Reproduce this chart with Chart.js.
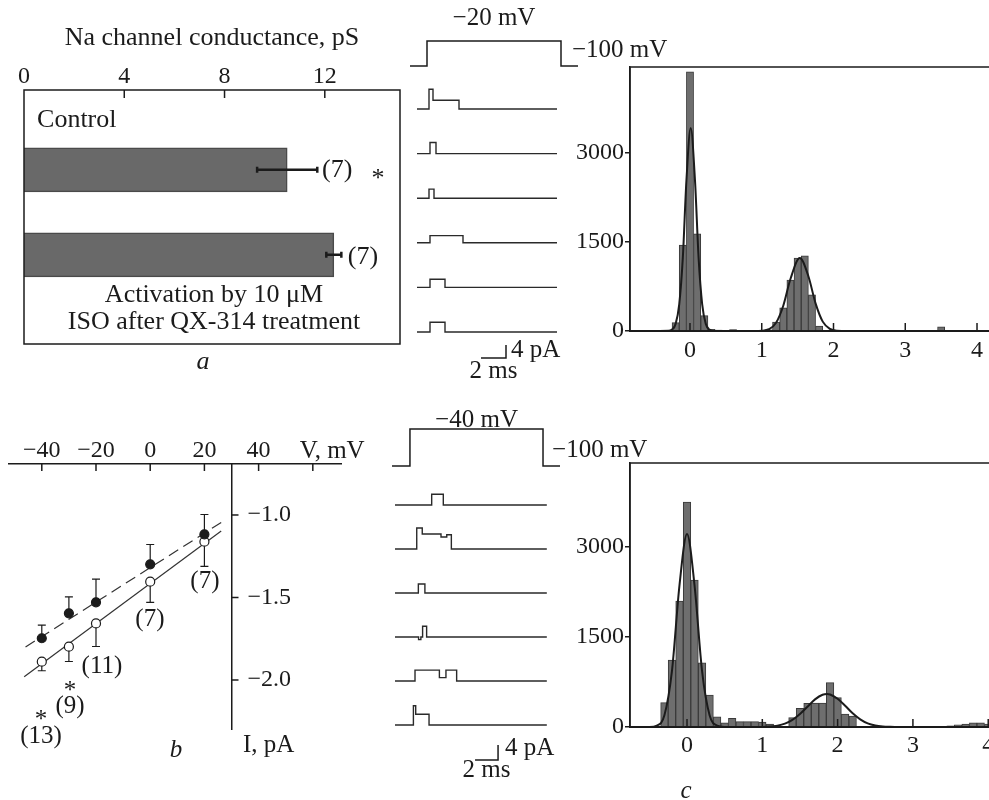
<!DOCTYPE html>
<html>
<head>
<meta charset="utf-8">
<script src="https://cdn.jsdelivr.net/npm/chart.js@4.4.1/dist/chart.umd.min.js"></script>
<style>
  html, body { margin: 0; padding: 0; background: #fff; overflow: hidden; }
  body { width: 989px; height: 800px; position: relative; }
  canvas { position: absolute; }
</style>
</head>
<body>
<canvas id="chartA" width="420" height="380" style="left:0;top:0"></canvas>
<canvas id="chartB" width="400" height="400" style="left:0;top:400px"></canvas>
<canvas id="tracesTop" width="300" height="395" style="left:400px;top:0"></canvas>
<canvas id="tracesBottom" width="300" height="395" style="left:380px;top:400px"></canvas>
<canvas id="histTop" width="460" height="330" style="left:560px;top:40px"></canvas>
<canvas id="histBottom" width="460" height="360" style="left:560px;top:440px"></canvas>
<script>
// a: single channel conductance
const conductance = [10.5, 12.36];          // Control, ISO after QX-314
const conductanceErr = [1.2, 0.3];
const ticksG = [0, 4, 8, 12];

// b: current-voltage relation
const voltages = [-40, -30, -20, 0, 20];
const currentControl = [-1.747, -1.596, -1.529, -1.299, -1.117];   // filled circles
const currentControlErr = [0.08, 0.10, 0.14, 0.12, 0.12];
const currentIso = [-1.889, -1.798, -1.657, -1.404, -1.162];       // open circles
const currentIsoErr = [0.055, 0.09, 0.14, 0.125, 0.15];
const fitControl = [[-46, -1.80], [26.2, -1.045]];
const fitIso = [[-46.5, -1.98], [26.2, -1.097]];
const ticksV = [-40, -20, 0, 20, 40, 60];
const tickLabelsV = ['\u221240', '\u221220', '0', '20', '40', ''];
const ticksI = [-1.0, -1.5, -2.0];

// single channel records: [time ms, current pA] change points
const protocolM20 = [[-0.56, -100], [0.8, -20], [11.52, -100], [12.88, -100]];
const tracesM20 = [
  [[0, 0], [0.96, 6.1], [1.28, 2.7], [3.36, 0], [11.2, 0]],
  [[0, 0], [1.04, 3.4], [1.52, 0], [11.2, 0]],
  [[0, 0], [0.96, 2.8], [1.36, 0], [11.2, 0]],
  [[0, 0], [1.04, 2.2], [3.68, 0], [11.2, 0]],
  [[0, 0], [1.04, 2.5], [2.24, 0], [11.2, 0]],
  [[0, 0], [1.04, 3.0], [2.24, 0], [11.2, 0]]
];
const protocolM40 = [[-0.26, -100], [1.3, -40], [12.87, -100], [14.35, -100]];
const tracesM40 = [
  [[0, 0], [3.19, 2.85], [4.2, 0], [13.2, 0]],
  [[0, 0], [1.89, 5.6], [2.37, 4.0], [4.0, 3.2], [4.5, 3.8], [4.9, 0], [13.2, 0]],
  [[0, 0], [2.03, 2.4], [2.6, 0], [13.2, 0]],
  [[0, 0], [2.05, -0.7], [2.25, 0], [2.4, 2.85], [2.75, 0], [13.2, 0]],
  [[0, 0], [1.74, 2.9], [3.86, 0.9], [4.43, 2.9], [5.36, 0], [13.2, 0]],
  [[0, 0], [1.6, 5.1], [1.8, 2.85], [2.96, 0], [13.2, 0]]
];

// c: amplitude histograms, pA
const ampBinsM20 = [-0.2, -0.1, 0, 0.1, 0.2, 0.3, 0.4, 0.5, 0.6, 0.7, 0.8, 1.1, 1.2, 1.3, 1.4, 1.5, 1.6, 1.7, 1.8, 3.5];
const ampCountsM20 = [140, 1450, 4370, 1640, 260, 30, 15, 10, 25, 10, 10, 20, 150, 390, 860, 1230, 1265, 610, 85, 70];
const fitAmpM20 = [-0.5, -0.3, -0.25, -0.2, -0.15, -0.1, -0.05, 0.01, 0.07, 0.12, 0.17, 0.22, 0.27, 0.35, 0.9, 1.0, 1.1, 1.2, 1.3, 1.4, 1.53, 1.65, 1.75, 1.85, 1.95, 2.05, 2.2, 4.6];
const fitCountM20 = [0, 3, 25, 120, 450, 1232, 2530, 3420, 2530, 1232, 450, 120, 25, 0, 0, 4, 30, 139, 426, 876, 1230, 922, 466, 158, 36, 5, 0, 0];
const ampBinsM40 = [-0.3, -0.2, -0.1, 0, 0.1, 0.2, 0.3, 0.4, 0.5, 0.6, 0.7, 0.8, 0.9, 1.0, 1.1, 1.2, 1.4, 1.5, 1.6, 1.7, 1.8, 1.9, 2.0, 2.1, 2.2, 3.5, 3.6, 3.7, 3.8, 3.9, 4.0, 4.1, 4.2];
const ampCountsM40 = [405, 1117, 2100, 3750, 2450, 1070, 533, 170, 70, 145, 90, 90, 90, 80, 50, 25, 155, 311, 394, 400, 400, 739, 489, 217, 183, 20, 35, 50, 70, 70, 50, 60, 60];
const fitAmpM40 = [-0.7, -0.5, -0.4, -0.3, -0.2, -0.1, 0, 0.1, 0.2, 0.3, 0.4, 0.5, 0.6, 1.0, 1.1, 1.2, 1.3, 1.4, 1.5, 1.6, 1.7, 1.8, 1.86, 1.9, 2.0, 2.1, 2.2, 2.3, 2.4, 2.5, 2.6, 2.7, 2.8, 4.5];
const fitCountM40 = [0, 1, 23, 197, 931, 2360, 3217, 2360, 931, 197, 23, 1, 0, 0, 8, 23, 56, 119, 217, 339, 460, 538, 550, 542, 470, 354, 228, 128, 61, 25, 9, 3, 0, 0];
const ticksAmp = [0, 1, 2, 3, 4];
const ticksCount = [0, 1500, 3000];

const ink = '#1b1b1b';
const serif = '"Liberation Serif", "Times New Roman", serif';
const tickFont = { family: serif, size: 24 };
const fmt = v => (v < 0 ? '\u2212' + Math.abs(v) : String(v));
const xy = (xs, ys) => xs.map((x, i) => ({ x: x, y: ys[i] }));

Chart.defaults.font.family = serif;
Chart.defaults.color = ink;

function drawErrors(chart, opts) {
  const { ctx, scales } = chart;
  (opts.errors || []).forEach(e => {
    const meta = chart.getDatasetMeta(e.dataset);
    const raw = chart.data.datasets[e.dataset].data;
    ctx.save();
    ctx.strokeStyle = ink;
    ctx.lineWidth = e.width;
    meta.data.forEach((el, i) => {
      ctx.beginPath();
      if (e.horizontal) {
        const x1 = scales.x.getPixelForValue(raw[i].x - e.err[i]);
        const x2 = scales.x.getPixelForValue(raw[i].x + e.err[i]);
        ctx.moveTo(x1, el.y); ctx.lineTo(x2, el.y);
        ctx.moveTo(x1, el.y - e.cap); ctx.lineTo(x1, el.y + e.cap);
        ctx.moveTo(x2, el.y - e.cap); ctx.lineTo(x2, el.y + e.cap);
      } else {
        const y2 = scales.y.getPixelForValue(raw[i].y + e.sign * e.err[i]);
        ctx.moveTo(el.x, el.y); ctx.lineTo(el.x, y2);
        ctx.moveTo(el.x - e.cap, y2); ctx.lineTo(el.x + e.cap, y2);
      }
      ctx.stroke();
    });
    ctx.restore();
  });
}

// frame, inward ticks, error bars and text notes
const decor = {
  id: 'decor',
  beforeDatasetsDraw(chart, args, opts) {
    if (opts.errorsBehind) drawErrors(chart, opts);
  },
  afterDatasetsDraw(chart, args, opts) {
    const { ctx, chartArea: area, scales } = chart;
    if (!opts.errorsBehind) drawErrors(chart, opts);
    ctx.save();
    ctx.strokeStyle = ink;
    ctx.fillStyle = ink;
    if (opts.frame) {
      ctx.lineWidth = opts.frame;
      ctx.strokeRect(area.left, area.top, area.right - area.left, area.bottom - area.top);
    }
    (opts.ticks || []).forEach(t => {
      const s = scales[t.scale];
      ctx.lineWidth = t.width || 1.5;
      t.values.forEach((v, i) => {
        const p = s.getPixelForValue(v);
        ctx.beginPath();
        if (s.isHorizontal()) {
          const y0 = t.from === 'top' ? area.top : area.bottom;
          ctx.moveTo(p, y0); ctx.lineTo(p, y0 + t.len);
        } else {
          const x0 = typeof t.from === 'object' ? scales.x.getPixelForValue(t.from.x) : area.left;
          ctx.moveTo(x0, p); ctx.lineTo(x0 + t.len, p);
          if (t.labels) {
            ctx.font = '24px ' + serif;
            ctx.textAlign = 'left';
            ctx.textBaseline = 'middle';
            ctx.fillText(t.labels[i], x0 + t.labelGap, p);
          }
        }
        ctx.stroke();
      });
    });
    (opts.notes || []).forEach(n => {
      const x = scales.x.getPixelForValue(n.x) + (n.dx || 0);
      const y = scales[n.axis || 'y'].getPixelForValue(n.y) + (n.dy || 0);
      ctx.font = (n.italic ? 'italic ' : '') + (n.size || opts.size || 25) + 'px ' + serif;
      ctx.textAlign = n.align || 'center';
      ctx.textBaseline = 'middle';
      ctx.fillText(n.text, x, y);
    });
    ctx.restore();
  }
};

const base = {
  responsive: false,
  devicePixelRatio: 1,
  animation: false,
  events: []
};
const quiet = { legend: { display: false }, tooltip: { enabled: false } };

// a
new Chart(document.getElementById('chartA'), {
  type: 'bar',
  data: {
    datasets: [{
      data: conductance.map((v, i) => ({ x: v, y: i + 1 })),
      backgroundColor: '#696969',
      borderColor: '#4a4a4a',
      borderWidth: 1.5,
      barThickness: 44
    }]
  },
  options: {
    ...base,
    indexAxis: 'y',
    layout: { padding: { left: 24, right: 20, top: 0, bottom: 36 } },
    scales: {
      x: {
        type: 'linear', position: 'top', min: 0, max: 15,
        afterFit: s => { s.height = 90; },
        afterBuildTicks: s => { s.ticks = ticksG.map(v => ({ value: v })); },
        grid: { display: false, drawTicks: false },
        border: { display: false },
        ticks: { font: tickFont, color: ink, padding: -1, callback: v => fmt(v) },
        title: { display: true, text: 'Na channel conductance, pS', font: { family: serif, size: 26 }, color: ink, padding: { top: 23, bottom: 0 } }
      },
      y: { type: 'linear', reverse: true, offset: false, min: 0.06, max: 3.05, display: false }
    },
    plugins: {
      ...quiet,
      decor: {
        frame: 1.5,
        size: 26,
        ticks: [{ scale: 'x', from: 'top', len: 8, values: ticksG.slice(1) }],
        errors: [{ dataset: 0, err: conductanceErr, horizontal: true, width: 2.5, cap: 3 }],
        notes: [
          { text: 'Control', x: 0.52, y: 0.413, align: 'left' },
          { text: '(7)', x: 11.89, y: 1.0, align: 'left' },
          { text: '*', x: 14.12, y: 1.11 },
          { text: '(7)', x: 12.92, y: 2.026, align: 'left' },
          { text: 'Activation by 10 \u03bcM', x: 7.58, y: 2.473 },
          { text: 'ISO after QX-314 treatment', x: 7.58, y: 2.79 },
          { text: 'a', x: 7.14, y: 3.26, italic: true }
        ]
      }
    }
  },
  plugins: [decor]
});

// b
new Chart(document.getElementById('chartB'), {
  type: 'scatter',
  data: {
    datasets: [
      {
        data: xy(voltages, currentControl),
        pointRadius: 4.5, pointBorderWidth: 1.2,
        backgroundColor: ink, borderColor: ink,
        pointBackgroundColor: ink, pointBorderColor: ink
      },
      {
        data: xy(voltages, currentIso),
        pointRadius: 4.5, pointBorderWidth: 1.2,
        backgroundColor: '#fff', borderColor: ink,
        pointBackgroundColor: '#fff', pointBorderColor: ink
      },
      {
        type: 'line',
        data: fitControl.map(p => ({ x: p[0], y: p[1] })),
        borderColor: '#333', borderWidth: 1.2, borderDash: [11, 6], pointRadius: 0
      },
      {
        type: 'line',
        data: fitIso.map(p => ({ x: p[0], y: p[1] })),
        borderColor: '#333', borderWidth: 1.2, pointRadius: 0
      }
    ]
  },
  options: {
    ...base,
    layout: { padding: { left: 9, right: 59, top: 0, bottom: 71 } },
    scales: {
      x: {
        type: 'linear', position: 'top', min: -52.1, max: 70.4,
        afterFit: s => { s.height = 64; },
        afterBuildTicks: s => { s.ticks = ticksV.map(v => ({ value: v })); },
        grid: { display: true, drawOnChartArea: false, drawTicks: false },
        border: { display: true, color: ink, width: 1.5 },
        ticks: { font: tickFont, color: ink, padding: -1, callback: v => tickLabelsV[ticksV.indexOf(v)] }
      },
      y: {
        type: 'linear', position: { x: 30 }, min: -2.297, max: -0.691,
        grid: { display: true, drawOnChartArea: false, drawTicks: false },
        border: { display: true, color: ink, width: 1.5 },
        ticks: { display: false }
      }
    },
    plugins: {
      ...quiet,
      decor: {
        errorsBehind: true,
        ticks: [
          { scale: 'x', from: 'top', len: 7, values: ticksV },
          { scale: 'y', from: { x: 30 }, len: 7, values: ticksI, labels: ticksI.map(v => '\u2212' + Math.abs(v).toFixed(1)), labelGap: 16 }
        ],
        errors: [
          { dataset: 0, err: currentControlErr, sign: 1, width: 1.2, cap: 4 },
          { dataset: 1, err: currentIsoErr, sign: -1, width: 1.2, cap: 4 }
        ],
        notes: [
          { text: '(7)', x: 20.2, y: -1.40 },
          { text: '(7)', x: -0.1, y: -1.63 },
          { text: '(11)', x: -17.8, y: -1.915 },
          { text: '*', x: -29.6, y: -2.07 },
          { text: '(9)', x: -29.6, y: -2.158 },
          { text: '*', x: -40.3, y: -2.248 },
          { text: '(13)', x: -40.3, y: -2.345 },
          { text: 'V, mV', x: 55.2, y: -0.612, align: 'left' },
          { text: 'I, pA', x: 34.2, y: -2.394, align: 'left' },
          { text: 'b', x: 9.5, y: -2.424, italic: true }
        ]
      }
    }
  },
  plugins: [decor]
});

// single channel records
function traceChart(id, traces, gap, protocol, ranges, bar, notes) {
  const datasets = traces.map((tr, k) => ({
    data: tr.map(p => ({ x: p[0], y: p[1] - k * gap })),
    stepped: 'before', borderColor: '#2a2a2a', borderWidth: 1.4, pointRadius: 0, yAxisID: 'y'
  }));
  datasets.push({
    data: protocol.map(p => ({ x: p[0], y: p[1] })),
    stepped: 'before', borderColor: ink, borderWidth: 1.5, pointRadius: 0, yAxisID: 'mv'
  });
  // 2 ms / 4 pA scale bar
  datasets.push({
    data: [{ x: bar.t - 2, y: bar.i }, { x: bar.t, y: bar.i }, { x: bar.t, y: bar.i + 4 }],
    borderColor: ink, borderWidth: 1.5, pointRadius: 0, yAxisID: 'y'
  });
  return new Chart(document.getElementById(id), {
    type: 'line',
    data: { datasets: datasets },
    options: {
      ...base,
      layout: { padding: 0 },
      scales: {
        x: { type: 'linear', display: false, min: ranges.t[0], max: ranges.t[1] },
        y: { type: 'linear', display: false, min: ranges.i[0], max: ranges.i[1] },
        mv: { type: 'linear', display: false, min: ranges.mv[0], max: ranges.mv[1] }
      },
      plugins: { ...quiet, decor: { notes: notes } }
    },
    plugins: [decor]
  });
}

traceChart('tracesTop', tracesM20, 13.72, protocolM20,
  { t: [-1.36, 22.64], i: [-88.0, 33.54], mv: [-1152.8, 111.2] },
  { t: 7.12, i: -76.6 },
  [
    { text: '\u221220 mV', x: 6.16, y: -20, axis: 'mv', dy: -23 },
    { text: '\u2212100 mV', x: 12.88, y: -100, axis: 'mv', dx: -6, dy: -16, align: 'left' },
    { text: '4 pA', x: 7.12, y: -74.2, dx: 5, align: 'left' },
    { text: '2 ms', x: 6.12, y: -76.6, dy: 13 }
  ]);

traceChart('tracesBottom', tracesM40, 11.73, protocolM40,
  { t: [-1.304, 24.78], i: [-77.33, 28], mv: [-633.5, 7.03] },
  { t: 8.96, i: -68 },
  [
    { text: '\u221240 mV', x: 7.09, y: -40, axis: 'mv', dy: -9 },
    { text: '\u2212100 mV', x: 14.35, y: -100, axis: 'mv', dx: -8, dy: -16, align: 'left' },
    { text: '4 pA', x: 8.96, y: -64.8, dx: 7, align: 'left' },
    { text: '2 ms', x: 7.96, y: -68, dy: 10 }
  ]);

// c
function histChart(id, bins, counts, fitX, fitY, xRange, yMax, fit, notes) {
  return new Chart(document.getElementById(id), {
    type: 'bar',
    data: {
      datasets: [
        {
          type: 'line', data: xy(fitX, fitY), borderColor: ink, borderWidth: 2,
          pointRadius: 0, cubicInterpolationMode: 'monotone', order: 0
        },
        {
          type: 'bar', data: xy(bins, counts), backgroundColor: '#6e6e6e', borderColor: '#3a3a3a',
          borderWidth: 1, barPercentage: 1, categoryPercentage: 1, order: 1
        }
      ]
    },
    options: {
      ...base,
      layout: { padding: { top: fit.top, left: 0, right: 0, bottom: 0 } },
      scales: {
        x: {
          type: 'linear', min: xRange[0], max: xRange[1], offset: false,
          afterFit: s => { s.height = fit.xh; },
          afterBuildTicks: s => { s.ticks = ticksAmp.map(v => ({ value: v })); },
          grid: { display: true, offset: false, drawOnChartArea: false, drawTicks: false },
          border: { display: true, color: ink, width: 2 },
          ticks: { font: tickFont, color: ink, padding: fit.xpad, callback: v => fmt(v) }
        },
        y: {
          type: 'linear', min: 0, max: yMax,
          afterFit: s => { s.width = 70; },
          afterBuildTicks: s => { s.ticks = ticksCount.map(v => ({ value: v })); },
          grid: { display: true, drawOnChartArea: false, drawTicks: true, tickLength: 5, color: ink, lineWidth: 1.5 },
          border: { display: true, color: ink, width: 1.5 },
          ticks: { font: tickFont, color: ink, padding: 1, callback: v => String(v) }
        }
      },
      plugins: {
        ...quiet,
        decor: {
          frame: 1.5,
          ticks: [{ scale: 'x', from: 'bottom', len: -8, values: ticksAmp }],
          notes: notes
        }
      }
    },
    plugins: [decor]
  });
}

histChart('histTop', ampBinsM20, ampCountsM20, fitAmpM20, fitCountM20,
  [-0.836, 4.599], 4450, { top: 27, xh: 39, xpad: 5 }, []);

histChart('histBottom', ampBinsM40, ampCountsM40, fitAmpM40, fitCountM40,
  [-0.757, 4.422], 4400, { top: 23, xh: 73, xpad: 4 },
  [{ text: 'c', x: -0.013, y: -1067, italic: true }]);
</script>
</body>
</html>
